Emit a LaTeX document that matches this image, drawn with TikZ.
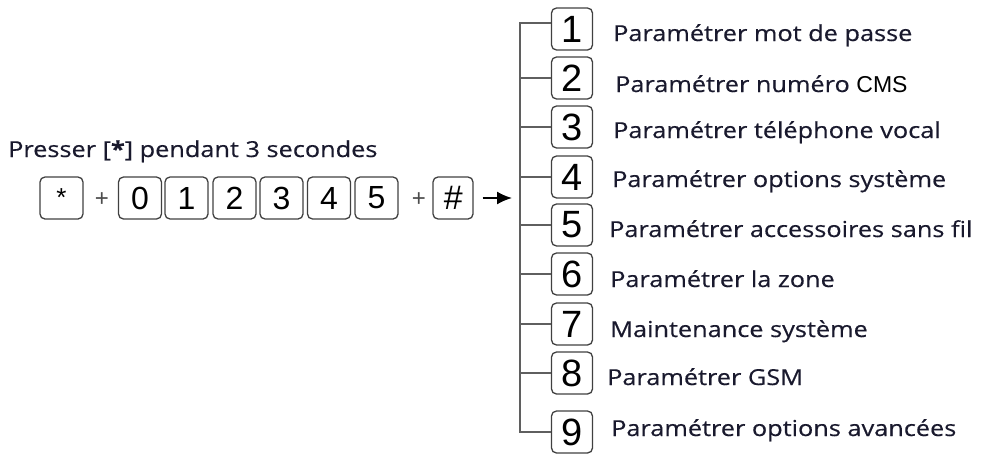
\documentclass[tikz,border=0pt]{standalone}
\usepackage{fontspec}
\usepackage{tikz}
\usetikzlibrary{arrows.meta}
\newfontfamily\menufont{Open Sans}[FakeStretch=1.15,FakeBold=0.4]
\newfontfamily\keyfont{Liberation Sans}
\definecolor{ink}{RGB}{25,25,45}
\definecolor{wire}{RGB}{95,95,95}
\tikzstyle{key}=[draw=black!75,line width=1.3pt,rounded corners=5pt,minimum width=43pt,minimum height=42pt,inner sep=0pt,font=\keyfont\fontsize{32}{32}\selectfont]
\tikzstyle{menukey}=[key,minimum width=41pt,font=\keyfont\fontsize{38}{38}\selectfont]
\tikzstyle{label}=[anchor=base west,inner sep=0pt,text=ink,font=\menufont\fontsize{22}{26}\selectfont]
\tikzstyle{plus}=[text=black!70,inner sep=0pt,font=\keyfont\fontsize{24}{24}\selectfont]
\tikzstyle{branch}=[wire,line width=1.4pt]

\begin{document}
\begin{tikzpicture}[x=1pt,y=-1pt]
\useasboundingbox (0,0) rectangle (983,453);
\node[label] at (8, 157) (title) {Presser [\textbf{*}] pendant 3 secondes};
\node[key] at (61.5, 198) (star) {\fontsize{26}{26}\selectfont *};
\node[plus] at (102, 199.5) (plusa) {+};
\node[key] at (140, 198) (k0) {0};
\node[key] at (186.5, 198) (kone) {1};
\node[key] at (234.5, 198) (ktwo) {2};
\node[key] at (281.5, 198) (kthree) {3};
\node[key] at (329, 198) (kfour) {4};
\node[key] at (376.5, 198) (kfive) {5};
\node[plus] at (419, 199.5) (plusb) {+};
\node[key,minimum width=40pt] at (453, 198) (hash) {\fontsize{34}{34}\selectfont\textit{\#}};
% menu keys
\node[menukey] at (572, 29) (m1) {1};
\node[menukey] at (572, 78) (m2) {2};
\node[menukey] at (572, 127) (m3) {3};
\node[menukey] at (572, 177) (m4) {4};
\node[menukey] at (572, 225) (m5) {5};
\node[menukey] at (572, 274) (m6) {6};
\node[menukey] at (572, 324) (m7) {7};
\node[menukey] at (572, 373) (m8) {8};
\node[menukey] at (572, 432) (m9) {9};
% menu texts
\node[label] at (613, 41) (t1) {Paramétrer mot de passe};
\node[label] at (615, 92) (t2) {Paramétrer numéro {\keyfont\fontsize{23}{26}\selectfont\color{black}CMS}};
\node[label] at (613, 138) (t3) {Paramétrer téléphone vocal};
\node[label] at (612, 187) (t4) {Paramétrer options système};
\node[label] at (609, 237) (t5) {Paramétrer accessoires sans fil};
\node[label] at (610, 287) (t6) {Paramétrer la zone};
\node[label] at (610, 337) (t7) {Maintenance système};
\node[label] at (607, 385) (t8) {Paramétrer GSM};
\node[label] at (611, 436) (t9) {Paramétrer options avancées};
% tree
\coordinate (top) at (520, 23);
\draw[branch] (m1.west |- top) -- (top) |- (m9.west);
\draw[branch] (m2.west) -- (m2.west -| top);
\draw[branch] (m3.west) -- (m3.west -| top);
\draw[branch] (m4.west) -- (m4.west -| top);
\draw[branch] (m5.west) -- (m5.west -| top);
\draw[branch] (m6.west) -- (m6.west -| top);
\draw[branch] (m7.west) -- (m7.west -| top);
\draw[branch] (m8.west) -- (m8.west -| top);
\draw[-{Latex[length=15pt,width=13pt]}, line width=1.8pt, shorten <=9pt, shorten >=8pt] (hash.east) -- (hash.east -| top);
\end{tikzpicture}
\end{document}
